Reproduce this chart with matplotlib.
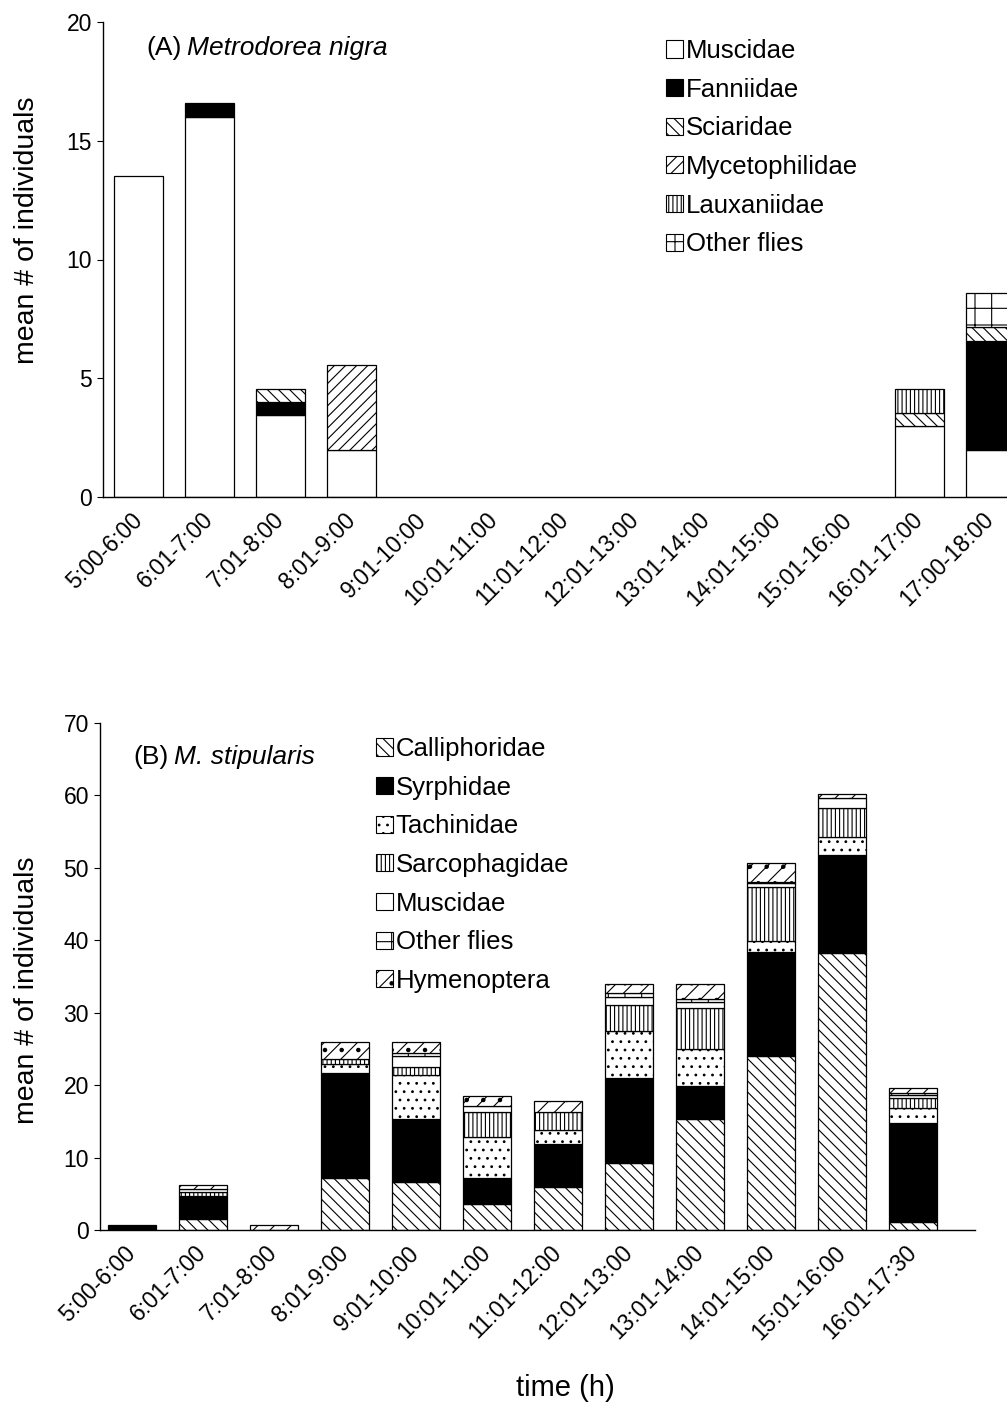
import matplotlib
matplotlib.use("Agg")
import matplotlib.pyplot as plt
from matplotlib.patches import Patch
import numpy as np

plt.rcParams['font.family'] = ['Liberation Sans', 'DejaVu Sans']
plt.rcParams['hatch.linewidth'] = 0.8

# ---------------- Panel A data ----------------
times_a = ["5:00-6:00", "6:01-7:00", "7:01-8:00", "8:01-9:00", "9:01-10:00",
           "10:01-11:00", "11:01-12:00", "12:01-13:00", "13:01-14:00",
           "14:01-15:00", "15:01-16:00", "16:01-17:00", "17:00-18:00"]
families_a = ["Muscidae", "Fanniidae", "Sciaridae", "Mycetophilidae",
              "Lauxaniidae", "Other flies"]
muscidae_a = [13.5, 16.0, 3.45, 2.0, 0, 0, 0, 0, 0, 0, 0, 3.0, 2.0]
fanniidae_a = [0, 0.6, 0.55, 0, 0, 0, 0, 0, 0, 0, 0, 0, 4.55]
sciaridae_a = [0, 0, 0.55, 0, 0, 0, 0, 0, 0, 0, 0, 0.55, 0.6]
mycetophilidae_a = [0, 0, 0, 3.55, 0, 0, 0, 0, 0, 0, 0, 0, 0]
lauxaniidae_a = [0, 0, 0, 0, 0, 0, 0, 0, 0, 0, 0, 1.0, 0]
other_a = [0, 0, 0, 0, 0, 0, 0, 0, 0, 0, 0, 0, 1.45]
yticks_a = [0, 5, 10, 15, 20]

# ---------------- Panel B data ----------------
times_b = ["5:00-6:00", "6:01-7:00", "7:01-8:00", "8:01-9:00", "9:01-10:00",
           "10:01-11:00", "11:01-12:00", "12:01-13:00", "13:01-14:00",
           "14:01-15:00", "15:01-16:00", "16:01-17:30"]
families_b = ["Calliphoridae", "Syrphidae", "Tachinidae", "Sarcophagidae",
              "Muscidae", "Other flies", "Hymenoptera"]
calliphoridae_b = [0, 1.5, 0, 7.2, 6.6, 3.6, 5.9, 9.3, 15.3, 24.0, 38.3, 1.1]
syrphidae_b = [0.7, 3.2, 0, 14.5, 8.7, 3.6, 6.0, 11.7, 4.6, 14.4, 13.5, 13.7]
tachinidae_b = [0, 0, 0, 1.2, 6.1, 5.6, 1.9, 6.5, 5.1, 1.5, 2.5, 2.0]
sarcophagidae_b = [0, 0.5, 0, 0.7, 1.1, 3.5, 2.5, 3.6, 5.7, 7.5, 4.0, 1.4]
muscidae_b = [0, 0.4, 0, 0, 1.5, 0.8, 0, 1.1, 0.8, 0.5, 1.4, 0.4]
other_b = [0, 0, 0, 0, 0.5, 0, 0, 0.5, 0.4, 0.2, 0, 0.3]
hymenoptera_b = [0, 0.6, 0.7, 2.4, 1.5, 1.4, 1.5, 1.3, 2.1, 2.6, 0.5, 0.7]
yticks_b = [0, 10, 20, 30, 40, 50, 60, 70]

styles_a = [dict(facecolor='white', hatch=None),
            dict(facecolor='black', hatch=None),
            dict(facecolor='white', hatch='\\\\\\'),
            dict(facecolor='white', hatch='///'),
            dict(facecolor='white', hatch='||||'),
            dict(facecolor='white', hatch='+')]
styles_b = [dict(facecolor='white', hatch='\\\\\\'),
            dict(facecolor='black', hatch=None),
            dict(facecolor='white', hatch='..'),
            dict(facecolor='white', hatch='||||'),
            dict(facecolor='white', hatch=None),
            dict(facecolor='white', hatch='+'),
            dict(facecolor='white', hatch='//.')]

W, H = 1007, 1403
fig = plt.figure(figsize=(W / 100, H / 100), dpi=100)


def style_axes(ax):
    for s in ['top', 'right']:
        ax.spines[s].set_visible(False)
    for s in ['left', 'bottom']:
        ax.spines[s].set_linewidth(1.0)
    ax.tick_params(axis='y', labelsize=16.5, length=4, width=0.8, pad=4)
    ax.tick_params(axis='x', labelsize=16.5, length=0, pad=14)


def stack(ax, series, styles, labels, width):
    x = np.arange(len(series[0]))
    bottom = np.zeros(len(x))
    handles = []
    for vals, st, lab in zip(series, styles, labels):
        vals = np.array(vals, dtype=float)
        bars = ax.bar(x, vals, width, bottom=bottom, facecolor=st['facecolor'],
                      hatch=st['hatch'], edgecolor='black', linewidth=0.9)
        for b, v in zip(bars, vals):
            if v == 0:
                b.set_visible(False)
        handles.append(Patch(facecolor=st['facecolor'], hatch=st['hatch'],
                             edgecolor='black', linewidth=0.8, label=lab))
        bottom += vals
    return handles


def title(x_px, y_px, prefix, name, gap_px):
    t = fig.text(x_px / W, 1 - y_px / H, prefix, fontsize=19,
                 ha='left', va='center')
    fig.canvas.draw()
    bb = t.get_window_extent()
    fig.text((bb.x1 + gap_px) / W, 1 - y_px / H, name, fontsize=19,
             ha='left', va='center', style='italic')


leg_kw = dict(loc='upper left', bbox_transform=fig.transFigure,
              frameon=False, fontsize=18.5, handlelength=0.65,
              handleheight=0.65, handletextpad=0.12, labelspacing=0.57,
              borderpad=0, borderaxespad=0)

# ---------- Panel A ----------
axA = fig.add_axes([103 / W, (H - 497) / H, 923 / W, 475 / H])
hA = stack(axA, [muscidae_a, fanniidae_a, sciaridae_a, mycetophilidae_a,
                 lauxaniidae_a, other_a], styles_a, families_a, 0.68)
axA.set_xlim(-0.5, 12.5)
axA.set_ylim(0, 20)
axA.set_yticks(yticks_a)
axA.set_xticks(np.arange(len(times_a)))
axA.set_xticklabels(times_a, rotation=45, ha='right', va='center',
                    rotation_mode='anchor')
style_axes(axA)
axA.legend(handles=hA, bbox_to_anchor=(666 / W, 1 - 39 / H), **leg_kw)

# ---------- Panel B ----------
axB = fig.add_axes([100 / W, (H - 1230) / H, 875 / W, 507 / H])
hB = stack(axB, [calliphoridae_b, syrphidae_b, tachinidae_b, sarcophagidae_b,
                 muscidae_b, other_b, hymenoptera_b], styles_b, families_b, 0.67)
axB.set_xlim(-0.45, 11.87)
axB.set_ylim(0, 70)
axB.set_yticks(yticks_b)
axB.set_xticks(np.arange(len(times_b)))
axB.set_xticklabels(times_b, rotation=45, ha='right', va='center',
                    rotation_mode='anchor')
style_axes(axB)
axB.legend(handles=hB, bbox_to_anchor=(376 / W, 1 - 737 / H), **leg_kw)

title(146, 48, '(A)', 'Metrodorea nigra', 6)
title(133, 757, '(B)', 'M. stipularis', 6)

# axis labels
fig.text(27 / W, 1 - 230 / H, 'mean # of individuals', rotation=90,
         ha='center', va='center', fontsize=20.5)
fig.text(27 / W, 1 - 990 / H, 'mean # of individuals', rotation=90,
         ha='center', va='center', fontsize=20.5)
fig.text(565 / W, 1 - 1388 / H, 'time (h)', ha='center', va='center',
         fontsize=21)

fig.savefig('out.png', dpi=100)
